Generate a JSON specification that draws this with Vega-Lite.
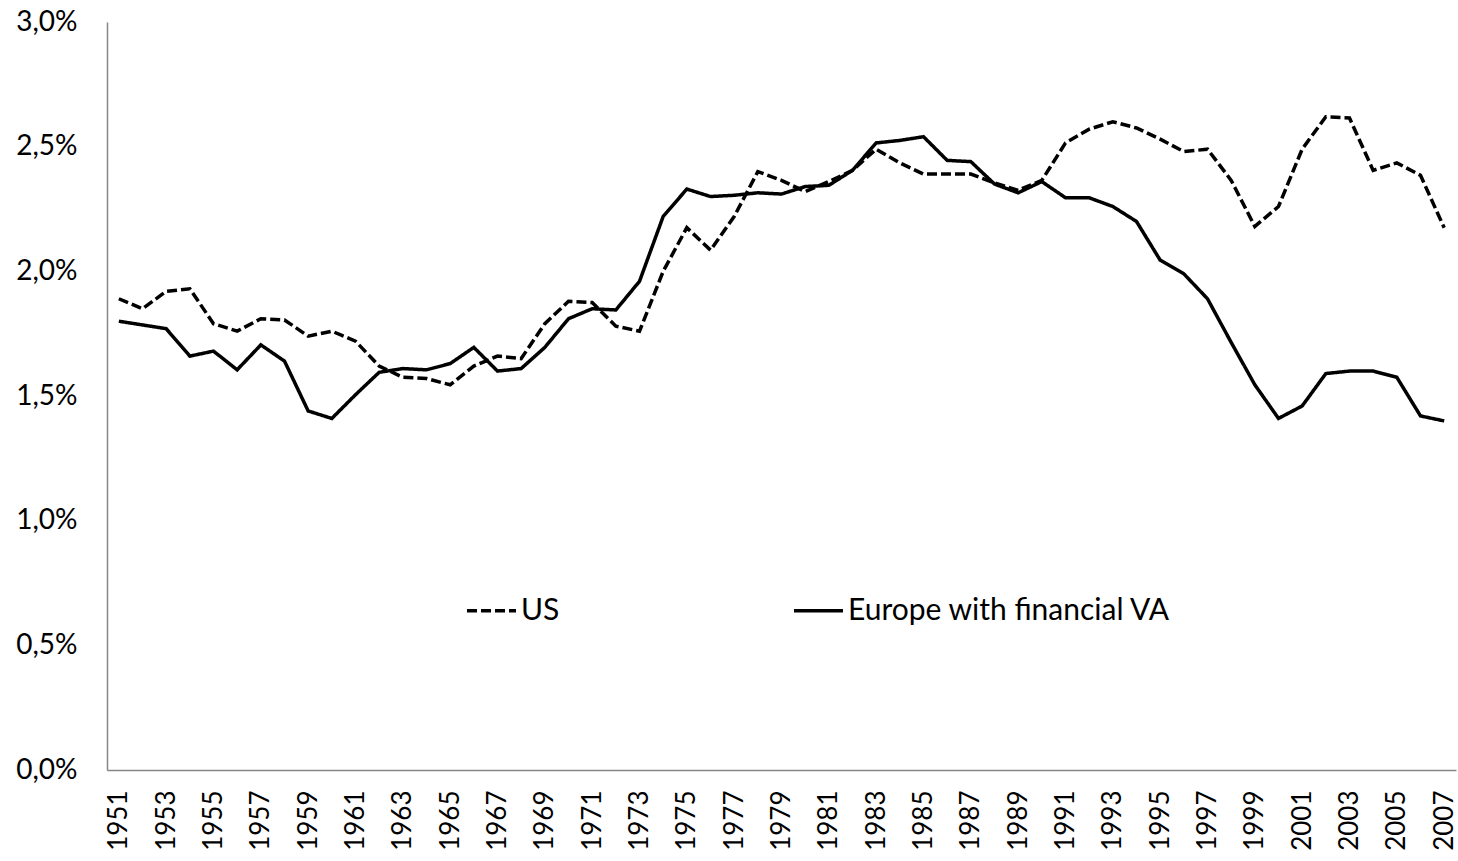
{
  "$schema": "https://vega.github.io/schema/vega-lite/v6.json",
  "autosize": {"type": "none"},
  "width": 1349,
  "height": 748,
  "padding": {"left": 107, "top": 22, "right": 2, "bottom": 91},
  "background": "white",
  "data": {"values": [
    {"year": 1951, "series": "US", "value": 1.89}, {"year": 1952, "series": "US", "value": 1.85}, {"year": 1953, "series": "US", "value": 1.92}, {"year": 1954, "series": "US", "value": 1.93}, {"year": 1955, "series": "US", "value": 1.79}, {"year": 1956, "series": "US", "value": 1.76}, {"year": 1957, "series": "US", "value": 1.81}, {"year": 1958, "series": "US", "value": 1.805}, {"year": 1959, "series": "US", "value": 1.74}, {"year": 1960, "series": "US", "value": 1.76},
    {"year": 1961, "series": "US", "value": 1.72}, {"year": 1962, "series": "US", "value": 1.62}, {"year": 1963, "series": "US", "value": 1.575}, {"year": 1964, "series": "US", "value": 1.57}, {"year": 1965, "series": "US", "value": 1.545}, {"year": 1966, "series": "US", "value": 1.62}, {"year": 1967, "series": "US", "value": 1.66}, {"year": 1968, "series": "US", "value": 1.65}, {"year": 1969, "series": "US", "value": 1.79}, {"year": 1970, "series": "US", "value": 1.88},
    {"year": 1971, "series": "US", "value": 1.875}, {"year": 1972, "series": "US", "value": 1.78}, {"year": 1973, "series": "US", "value": 1.76}, {"year": 1974, "series": "US", "value": 2.0}, {"year": 1975, "series": "US", "value": 2.175}, {"year": 1976, "series": "US", "value": 2.085}, {"year": 1977, "series": "US", "value": 2.22}, {"year": 1978, "series": "US", "value": 2.4}, {"year": 1979, "series": "US", "value": 2.365}, {"year": 1980, "series": "US", "value": 2.32},
    {"year": 1981, "series": "US", "value": 2.36}, {"year": 1982, "series": "US", "value": 2.405}, {"year": 1983, "series": "US", "value": 2.49}, {"year": 1984, "series": "US", "value": 2.435}, {"year": 1985, "series": "US", "value": 2.39}, {"year": 1986, "series": "US", "value": 2.39}, {"year": 1987, "series": "US", "value": 2.39}, {"year": 1988, "series": "US", "value": 2.355}, {"year": 1989, "series": "US", "value": 2.325}, {"year": 1990, "series": "US", "value": 2.365},
    {"year": 1991, "series": "US", "value": 2.515}, {"year": 1992, "series": "US", "value": 2.57}, {"year": 1993, "series": "US", "value": 2.6}, {"year": 1994, "series": "US", "value": 2.575}, {"year": 1995, "series": "US", "value": 2.53}, {"year": 1996, "series": "US", "value": 2.48}, {"year": 1997, "series": "US", "value": 2.49}, {"year": 1998, "series": "US", "value": 2.365}, {"year": 1999, "series": "US", "value": 2.18}, {"year": 2000, "series": "US", "value": 2.26},
    {"year": 2001, "series": "US", "value": 2.49}, {"year": 2002, "series": "US", "value": 2.62}, {"year": 2003, "series": "US", "value": 2.615}, {"year": 2004, "series": "US", "value": 2.405}, {"year": 2005, "series": "US", "value": 2.435}, {"year": 2006, "series": "US", "value": 2.385}, {"year": 2007, "series": "US", "value": 2.175},
    {"year": 1951, "series": "Europe with financial VA", "value": 1.8}, {"year": 1952, "series": "Europe with financial VA", "value": 1.785}, {"year": 1953, "series": "Europe with financial VA", "value": 1.77}, {"year": 1954, "series": "Europe with financial VA", "value": 1.66}, {"year": 1955, "series": "Europe with financial VA", "value": 1.68}, {"year": 1956, "series": "Europe with financial VA", "value": 1.605}, {"year": 1957, "series": "Europe with financial VA", "value": 1.705}, {"year": 1958, "series": "Europe with financial VA", "value": 1.64}, {"year": 1959, "series": "Europe with financial VA", "value": 1.44}, {"year": 1960, "series": "Europe with financial VA", "value": 1.41},
    {"year": 1961, "series": "Europe with financial VA", "value": 1.505}, {"year": 1962, "series": "Europe with financial VA", "value": 1.595}, {"year": 1963, "series": "Europe with financial VA", "value": 1.61}, {"year": 1964, "series": "Europe with financial VA", "value": 1.605}, {"year": 1965, "series": "Europe with financial VA", "value": 1.63}, {"year": 1966, "series": "Europe with financial VA", "value": 1.695}, {"year": 1967, "series": "Europe with financial VA", "value": 1.6}, {"year": 1968, "series": "Europe with financial VA", "value": 1.61}, {"year": 1969, "series": "Europe with financial VA", "value": 1.695}, {"year": 1970, "series": "Europe with financial VA", "value": 1.81},
    {"year": 1971, "series": "Europe with financial VA", "value": 1.85}, {"year": 1972, "series": "Europe with financial VA", "value": 1.845}, {"year": 1973, "series": "Europe with financial VA", "value": 1.96}, {"year": 1974, "series": "Europe with financial VA", "value": 2.22}, {"year": 1975, "series": "Europe with financial VA", "value": 2.33}, {"year": 1976, "series": "Europe with financial VA", "value": 2.3}, {"year": 1977, "series": "Europe with financial VA", "value": 2.305}, {"year": 1978, "series": "Europe with financial VA", "value": 2.315}, {"year": 1979, "series": "Europe with financial VA", "value": 2.31}, {"year": 1980, "series": "Europe with financial VA", "value": 2.34},
    {"year": 1981, "series": "Europe with financial VA", "value": 2.345}, {"year": 1982, "series": "Europe with financial VA", "value": 2.405}, {"year": 1983, "series": "Europe with financial VA", "value": 2.515}, {"year": 1984, "series": "Europe with financial VA", "value": 2.525}, {"year": 1985, "series": "Europe with financial VA", "value": 2.54}, {"year": 1986, "series": "Europe with financial VA", "value": 2.445}, {"year": 1987, "series": "Europe with financial VA", "value": 2.44}, {"year": 1988, "series": "Europe with financial VA", "value": 2.35}, {"year": 1989, "series": "Europe with financial VA", "value": 2.315}, {"year": 1990, "series": "Europe with financial VA", "value": 2.36},
    {"year": 1991, "series": "Europe with financial VA", "value": 2.295}, {"year": 1992, "series": "Europe with financial VA", "value": 2.295}, {"year": 1993, "series": "Europe with financial VA", "value": 2.26}, {"year": 1994, "series": "Europe with financial VA", "value": 2.2}, {"year": 1995, "series": "Europe with financial VA", "value": 2.045}, {"year": 1996, "series": "Europe with financial VA", "value": 1.99}, {"year": 1997, "series": "Europe with financial VA", "value": 1.89}, {"year": 1998, "series": "Europe with financial VA", "value": 1.715}, {"year": 1999, "series": "Europe with financial VA", "value": 1.545}, {"year": 2000, "series": "Europe with financial VA", "value": 1.41},
    {"year": 2001, "series": "Europe with financial VA", "value": 1.46}, {"year": 2002, "series": "Europe with financial VA", "value": 1.59}, {"year": 2003, "series": "Europe with financial VA", "value": 1.6}, {"year": 2004, "series": "Europe with financial VA", "value": 1.6}, {"year": 2005, "series": "Europe with financial VA", "value": 1.575}, {"year": 2006, "series": "Europe with financial VA", "value": 1.42}, {"year": 2007, "series": "Europe with financial VA", "value": 1.4}
  ]},
  "mark": {"type": "line", "color": "black", "strokeWidth": 3.5, "strokeJoin": "miter"},
  "encoding": {
    "x": {
      "field": "year", "type": "ordinal",
      "scale": {"paddingInner": 0, "paddingOuter": 0},
      "axis": {
        "title": null,
        "values": [1951,1953,1955,1957,1959,1961,1963,1965,1967,1969,1971,1973,1975,1977,1979,1981,1983,1985,1987,1989,1991,1993,1995,1997,1999,2001,2003,2005,2007],
        "labelAngle": -90, "labelAlign": "right", "labelBaseline": "middle",
        "labelPadding": 20, "ticks": false, "tickSize": 0,
        "labelFont": "Lato", "labelFontSize": 26, "labelColor": "#000000",
        "domainColor": "#868686", "domainWidth": 1.5, "grid": false, "labelOverlap": false
      }
    },
    "y": {
      "field": "value", "type": "quantitative",
      "scale": {"domain": [0, 3], "nice": false, "zero": true},
      "axis": {
        "title": null,
        "values": [0, 0.5, 1, 1.5, 2, 2.5, 3],
        "labelExpr": "replace(format(datum.value, '.1f'), '.', ',') + '%'",
        "ticks": false, "tickSize": 0, "labelPadding": 30, "grid": false,
        "labelFont": "Lato", "labelFontSize": 28, "labelColor": "#000000",
        "domainColor": "#868686", "domainWidth": 1.5, "labelBaseline": "middle"
      }
    },
    "strokeDash": {
      "field": "series", "type": "nominal",
      "scale": {"domain": ["US", "Europe with financial VA"], "range": [[10, 4], [1, 0]]},
      "legend": {
        "title": null, "orient": "none", "legendX": 358, "legendY": 562,
        "direction": "horizontal", "columns": 2, "columnPadding": 227,
        "symbolType": "stroke", "symbolSize": 2401, "symbolStrokeWidth": 3.5, "symbolStrokeColor": "black",
        "labelFont": "Lato", "labelFontSize": 30, "labelColor": "#000000", "labelOffset": 3, "labelLimit": 500
      }
    }
  },
  "config": {"view": {"stroke": null}}
}
